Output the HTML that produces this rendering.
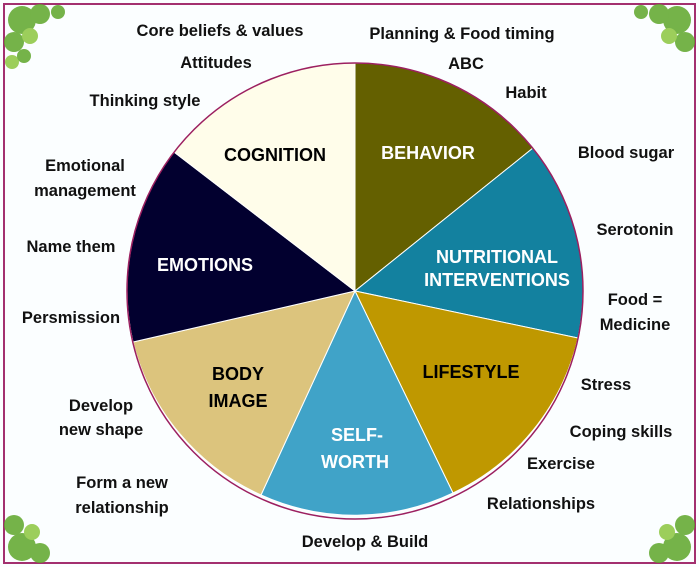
<!DOCTYPE html>
<html><head><style>
html,body{margin:0;padding:0;background:#fff;}
svg{display:block;font-family:"Liberation Sans",sans-serif;font-weight:bold;}
</style></head><body>
<svg width="699" height="567" viewBox="0 0 699 567" xmlns="http://www.w3.org/2000/svg">
<rect x="0" y="0" width="699" height="567" fill="#fbfeff"/>
<rect x="4" y="4" width="691" height="559" fill="none" stroke="#a3306f" stroke-width="2"/>
<g fill="#5ea62a" opacity="0.85">
<circle cx="22" cy="20" r="14"/><circle cx="40" cy="14" r="10"/><circle cx="14" cy="42" r="10"/><circle cx="30" cy="36" r="8" fill="#8cc63f"/><circle cx="58" cy="12" r="7"/><circle cx="12" cy="62" r="7" fill="#8cc63f"/><circle cx="24" cy="56" r="7"/>
<circle cx="677" cy="20" r="14"/><circle cx="659" cy="14" r="10"/><circle cx="685" cy="42" r="10"/><circle cx="669" cy="36" r="8" fill="#8cc63f"/><circle cx="641" cy="12" r="7"/>
<circle cx="22" cy="547" r="14"/><circle cx="40" cy="553" r="10"/><circle cx="14" cy="525" r="10"/><circle cx="32" cy="532" r="8" fill="#8cc63f"/>
<circle cx="677" cy="547" r="14"/><circle cx="659" cy="553" r="10"/><circle cx="685" cy="525" r="10"/><circle cx="667" cy="532" r="8" fill="#8cc63f"/>
</g>
<g stroke="#fff" stroke-width="1">
<path d="M355,291 L355,63 A228,228 0 0 1 533,148 Z" fill="#646000"/>
<path d="M355,291 L533,148 A228,228 0 0 1 578,338 Z" fill="#13819f"/>
<path d="M355,291 L578,338 A228,228 0 0 1 453,493 Z" fill="#bf9800"/>
<path d="M355,291 L453,493 A228,228 0 0 1 261,495 Z" fill="#40a3c8"/>
<path d="M355,291 L261,495 A228,228 0 0 1 133,342 Z" fill="#dcc47d"/>
<path d="M355,291 L133,342 A228,228 0 0 1 174,152 Z" fill="#02002f"/>
<path d="M355,291 L174,152 A228,228 0 0 1 355,63 Z" fill="#fffdea"/>
</g>
<circle cx="355" cy="291" r="228" fill="none" stroke="#9c2060" stroke-width="1.5"/>
<g font-size="18" text-anchor="middle">
<text x="275" y="161" fill="#000">COGNITION</text>
<text x="428" y="159" fill="#fff">BEHAVIOR</text>
<text x="497" y="263" fill="#fff">NUTRITIONAL</text>
<text x="497" y="286" fill="#fff">INTERVENTIONS</text>
<text x="205" y="271" fill="#fff">EMOTIONS</text>
<text x="238" y="380" fill="#000">BODY</text>
<text x="238" y="407" fill="#000">IMAGE</text>
<text x="357" y="441" fill="#fff">SELF-</text>
<text x="355" y="468" fill="#fff">WORTH</text>
<text x="471" y="378" fill="#000">LIFESTYLE</text>
</g>
<g font-size="16.5" fill="#111" text-anchor="middle">
<text x="220" y="36">Core beliefs &amp; values</text>
<text x="462" y="39">Planning &amp; Food timing</text>
<text x="216" y="68">Attitudes</text>
<text x="466" y="69">ABC</text>
<text x="526" y="98">Habit</text>
<text x="145" y="106">Thinking style</text>
<text x="626" y="158">Blood sugar</text>
<text x="85" y="171">Emotional</text>
<text x="85" y="196">management</text>
<text x="635" y="235">Serotonin</text>
<text x="71" y="252">Name them</text>
<text x="635" y="305">Food =</text>
<text x="635" y="330">Medicine</text>
<text x="71" y="323">Persmission</text>
<text x="606" y="390">Stress</text>
<text x="101" y="411">Develop</text>
<text x="101" y="435">new shape</text>
<text x="621" y="437">Coping skills</text>
<text x="561" y="469">Exercise</text>
<text x="122" y="488">Form a new</text>
<text x="122" y="513">relationship</text>
<text x="541" y="509">Relationships</text>
<text x="365" y="547">Develop &amp; Build</text>
</g>
</svg>
</body></html>
